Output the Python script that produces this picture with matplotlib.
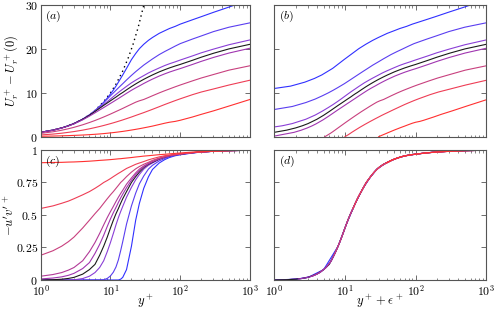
import numpy as np
import matplotlib

matplotlib.use("Agg")

import matplotlib.pyplot as plt
from matplotlib.ticker import LogLocator, NullFormatter

plt.rcParams["mathtext.fontset"] = "cm"
plt.rcParams["font.family"] = "serif"
plt.rcParams["font.serif"] = ["DejaVu Serif"]

# wall-normal positions at which the curves were read
y_plus = [1, 1.5, 2, 2.5, 3, 4, 5, 6, 7, 8, 9, 10, 11, 12, 13, 14, 15, 17, 20,
          23, 26, 30, 35, 40, 50, 60, 70, 85, 100, 150, 200, 300, 500, 1000]

# panel (a)/(b): mean velocity, blue -> red
u_names = ["blue1", "blue2", "purple3", "black", "purple5", "magenta6", "red7", "red8"]
u_colors = ["#3030ff", "#5a3ef0", "#8a3ed6", "#1a1a1a", "#a035b0", "#c8407e", "#ee3d55", "#ff3030"]
u_eps = [-10.3, -5.2, -1.2, 0.0, 0.9, 5.2, 10.0, 30.0]
u_blue1 = [1.0, 1.5, 2.0, 2.5, 3.0, 4.0, 4.97, 5.95, 6.9, 7.85, 8.8, 9.75, 10.65, 11.55, 12.45,
           13.3, 14.1, 15.6, 17.6, 19.0, 20.1, 21.1, 22.0, 22.65, 23.6, 24.2, 24.7, 25.2, 25.7,
           26.7, 27.4, 28.4, 29.6, 31.3]
u_blue2 = [1.0, 1.5, 2.0, 2.5, 3.0, 4.0, 4.98, 5.95, 6.9, 7.8, 8.6, 9.35, 10.0, 10.6, 11.15,
           11.65, 12.1, 12.95, 14.0, 14.85, 15.55, 16.35, 17.1, 17.75, 18.75, 19.45, 20.0, 20.7,
           21.25, 22.3, 23.0, 24.0, 25.0, 26.0]
u_purple3 = [1.0, 1.5, 2.0, 2.5, 3.0, 3.99, 4.95, 5.85, 6.65, 7.35, 8.0, 8.6, 9.15, 9.65, 10.1,
             10.5, 10.85, 11.5, 12.3, 12.9, 13.4, 13.95, 14.55, 15.0, 15.7, 16.25, 16.65, 17.1,
             17.5, 18.45, 19.15, 20.0, 21.0, 22.1]
u_black = [1.0, 1.5, 2.0, 2.5, 2.99, 3.97, 4.9, 5.75, 6.5, 7.15, 7.7, 8.2, 8.65, 9.05, 9.45,
           9.8, 10.1, 10.7, 11.45, 12.05, 12.55, 13.1, 13.65, 14.1, 14.8, 15.3, 15.7, 16.15,
           16.5, 17.45, 18.15, 19.05, 20.05, 21.1]
u_purple5 = [0.99, 1.48, 1.97, 2.45, 2.93, 3.85, 4.7, 5.45, 6.1, 6.65, 7.15, 7.6, 8.0, 8.38,
             8.72, 9.05, 9.35, 9.9, 10.6, 11.15, 11.6, 12.15, 12.7, 13.15, 13.85, 14.35, 14.75,
             15.2, 15.55, 16.5, 17.2, 18.1, 19.1, 20.2]
u_magenta6 = [0.75, 1.12, 1.48, 1.82, 2.14, 2.72, 3.24, 3.7, 4.12, 4.5, 4.85, 5.17, 5.47, 5.75,
              6.0, 6.24, 6.46, 6.88, 7.42, 7.88, 8.2, 8.5, 8.95, 9.35, 10.0, 10.5, 10.9, 11.4,
              11.8, 12.75, 13.4, 14.2, 15.2, 16.2]
u_red7 = [0.4, 0.6, 0.8, 1.0, 1.17, 1.5, 1.8, 2.08, 2.33, 2.56, 2.78, 2.98, 3.17, 3.35, 3.52,
          3.68, 3.83, 4.12, 4.5, 4.85, 5.15, 5.5, 5.9, 6.25, 6.85, 7.35, 7.75, 8.25, 8.65, 9.6,
          10.2, 10.9, 11.8, 12.9]
u_red8 = [0.1, 0.15, 0.2, 0.25, 0.3, 0.38, 0.47, 0.55, 0.63, 0.71, 0.79, 0.87, 0.94, 1.01, 1.08,
          1.15, 1.21, 1.34, 1.52, 1.68, 1.83, 2.02, 2.23, 2.42, 2.78, 3.08, 3.3, 3.5, 3.75, 4.5,
          5.1, 5.9, 7.0, 8.5]
u_curves = [u_blue1, u_blue2, u_purple3, u_black, u_purple5, u_magenta6, u_red7, u_red8]

# viscous sublayer reference U+ = y+
visc_y = [1, 1.5, 2, 3, 4, 5, 6, 8, 10, 12, 15, 18, 21, 25, 30]

# panel (c)/(d): Reynolds shear stress, blue -> red
uv_colors = ["#3030ff", "#5a3ef0", "#8a3ed6", "#1a1a1a", "#a035b0", "#b23a98", "#c8407e",
             "#ee3d55", "#ff3030"]
uv_eps = [-12.0, -6.5, -1.6, 0.0, 1.2, 2.4, 6.0, 12.0, 38.0]
uv_blue1 = [0] * 15 + [0.006, 0.02, 0.08, 0.26, 0.46, 0.59, 0.705, 0.793, 0.85, 0.90, 0.926,
                       0.942, 0.956, 0.963, 0.977, 0.984, 0.99, 0.995, 0.998]
uv_blue2 = [0] * 9 + [0.002, 0.012, 0.031, 0.06, 0.10, 0.155, 0.225, 0.295, 0.43, 0.57, 0.668,
                      0.74, 0.80, 0.853, 0.882, 0.916, 0.935, 0.948, 0.96, 0.966, 0.978, 0.984,
                      0.99, 0.995, 0.998]
uv_purple3 = [0, 0, 0, 0, 0.001, 0.011, 0.029, 0.057, 0.096, 0.148, 0.218, 0.288, 0.358, 0.424,
              0.48, 0.526, 0.566, 0.637, 0.713, 0.771, 0.812, 0.853, 0.882, 0.90, 0.927, 0.943,
              0.954, 0.962, 0.968, 0.979, 0.985, 0.99, 0.995, 0.998]
uv_black = [0, 0.002, 0.006, 0.012, 0.02, 0.045, 0.08, 0.12, 0.19, 0.26, 0.33, 0.40, 0.46, 0.51,
            0.55, 0.59, 0.625, 0.68, 0.75, 0.795, 0.83, 0.865, 0.89, 0.905, 0.93, 0.945, 0.955,
            0.963, 0.968, 0.979, 0.985, 0.99, 0.995, 0.998]
uv_purple5 = [0.008, 0.015, 0.024, 0.036, 0.051, 0.088, 0.134, 0.204, 0.274, 0.344, 0.412, 0.47,
              0.518, 0.558, 0.597, 0.631, 0.66, 0.71, 0.768, 0.81, 0.842, 0.87, 0.893, 0.909,
              0.932, 0.946, 0.956, 0.963, 0.969, 0.979, 0.985, 0.99, 0.995, 0.998]
uv_purple6 = [0.029, 0.042, 0.057, 0.076, 0.096, 0.148, 0.218, 0.288, 0.358, 0.424, 0.48, 0.526,
              0.566, 0.604, 0.637, 0.665, 0.69, 0.737, 0.785, 0.824, 0.853, 0.877, 0.897, 0.912,
              0.934, 0.947, 0.956, 0.964, 0.969, 0.979, 0.985, 0.99, 0.995, 0.998]
uv_magenta = [0.19, 0.225, 0.26, 0.295, 0.33, 0.40, 0.46, 0.51, 0.55, 0.59, 0.625, 0.655, 0.68,
              0.705, 0.728, 0.75, 0.765, 0.795, 0.83, 0.855, 0.873, 0.89, 0.905, 0.92, 0.938,
              0.95, 0.957, 0.964, 0.97, 0.98, 0.985, 0.99, 0.995, 0.998]
uv_red7 = [0.55, 0.57, 0.59, 0.607, 0.625, 0.655, 0.68, 0.705, 0.728, 0.75, 0.765, 0.78, 0.795,
           0.808, 0.82, 0.83, 0.84, 0.858, 0.875, 0.89, 0.90, 0.911, 0.924, 0.933, 0.947, 0.956,
           0.961, 0.967, 0.971, 0.98, 0.985, 0.99, 0.995, 0.998]
uv_red8 = [0.902, 0.904, 0.905, 0.907, 0.908, 0.911, 0.914, 0.917, 0.92, 0.922, 0.924, 0.926,
           0.928, 0.93, 0.932, 0.933, 0.935, 0.938, 0.942, 0.946, 0.949, 0.953, 0.956, 0.959,
           0.964, 0.967, 0.97, 0.974, 0.977, 0.984, 0.987, 0.991, 0.995, 0.998]
uv_curves = [uv_blue1, uv_blue2, uv_purple3, uv_black, uv_purple5, uv_purple6, uv_magenta,
             uv_red7, uv_red8]

u_ticks = [0, 10, 20, 30]
uv_ticks = [0, 0.25, 0.5, 0.75, 1]
uv_tick_labels = ["0", "0.25", "0.5", "0.75", "1"]
x_ticks = [1, 10, 100, 1000]
x_tick_labels = ["$10^0$", "$10^1$", "$10^2$", "$10^3$"]

fig = plt.figure(figsize=(4.95, 3.09), dpi=100)
ax_a = fig.add_axes([0.0822, 0.5576, 0.4228, 0.4252])
ax_b = fig.add_axes([0.5541, 0.5576, 0.4283, 0.4252])
ax_c = fig.add_axes([0.0822, 0.0939, 0.4228, 0.4207])
ax_d = fig.add_axes([0.5541, 0.0939, 0.4283, 0.4207])

y_arr = np.array(y_plus, dtype=float)
y_wall = np.concatenate([[0.0], y_arr])
lw = 0.8

ax_a.plot(visc_y, visc_y, color="black", linestyle=(0, (1, 2.5)), lw=1.0)
for u, color, eps in zip(u_curves, u_colors, u_eps):
    ax_a.plot(y_plus, u, color=color, lw=lw)
    x = y_wall + eps
    uu = np.concatenate([[0.0], u])
    keep = x > 0
    ax_b.plot(x[keep], uu[keep], color=color, lw=lw)

for uv, color, eps in zip(uv_curves, uv_colors, uv_eps):
    ax_c.plot(y_plus, uv, color=color, lw=lw)
    x = y_arr + eps
    vv = np.array(uv)
    keep = x > 0
    ax_d.plot(x[keep], vv[keep], color=color, lw=lw)

for ax in (ax_a, ax_b, ax_c, ax_d):
    ax.set_xscale("log")
    ax.set_xlim(1, 1000)
    ax.set_xticks(x_ticks)
    ax.xaxis.set_minor_locator(LogLocator(base=10, subs=np.arange(2, 10)))
    ax.xaxis.set_minor_formatter(NullFormatter())
    ax.tick_params(which="both", direction="in", top=True, right=True, color="#555555",
                   labelsize=8.5, pad=2)
    ax.tick_params(which="major", length=3.5, width=0.6)
    ax.tick_params(which="minor", length=1.8, width=0.5)
    for spine in ax.spines.values():
        spine.set_color("#555555")
        spine.set_linewidth(0.8)

for ax in (ax_a, ax_b):
    ax.set_ylim(0, 30)
    ax.set_yticks(u_ticks)
    ax.set_xticklabels([])
ax_a.set_yticklabels([f"${t}$" for t in u_ticks])
ax_b.set_yticklabels([])

for ax in (ax_c, ax_d):
    ax.set_ylim(0, 1)
    ax.set_yticks(uv_ticks)
    ax.set_xticklabels(x_tick_labels)
    ax.tick_params(axis="x", pad=2.5)
ax_c.set_yticklabels([f"${t}$" for t in uv_tick_labels])
ax_d.set_yticklabels([])

ax_a.set_ylabel(r"$U_r^+ - U_r^+(0)$", fontsize=9)
ax_c.set_ylabel(r"$-\overline{u^\prime v^\prime}^+$", fontsize=9)
ax_a.yaxis.set_label_coords(-0.1, 0.5)
ax_c.yaxis.set_label_coords(-0.115, 0.5)
ax_c.set_xlabel(r"$y^+$", fontsize=9, labelpad=-4)
ax_d.set_xlabel(r"$y^+ + \epsilon^+$", fontsize=9, labelpad=-4)

for ax, tag in zip((ax_a, ax_b, ax_c, ax_d), ("a", "b", "c", "d")):
    ax.text(0.02, 0.975, f"$({tag})$", transform=ax.transAxes, ha="left", va="top", fontsize=8.5)

fig.savefig("out.png", dpi=100)
